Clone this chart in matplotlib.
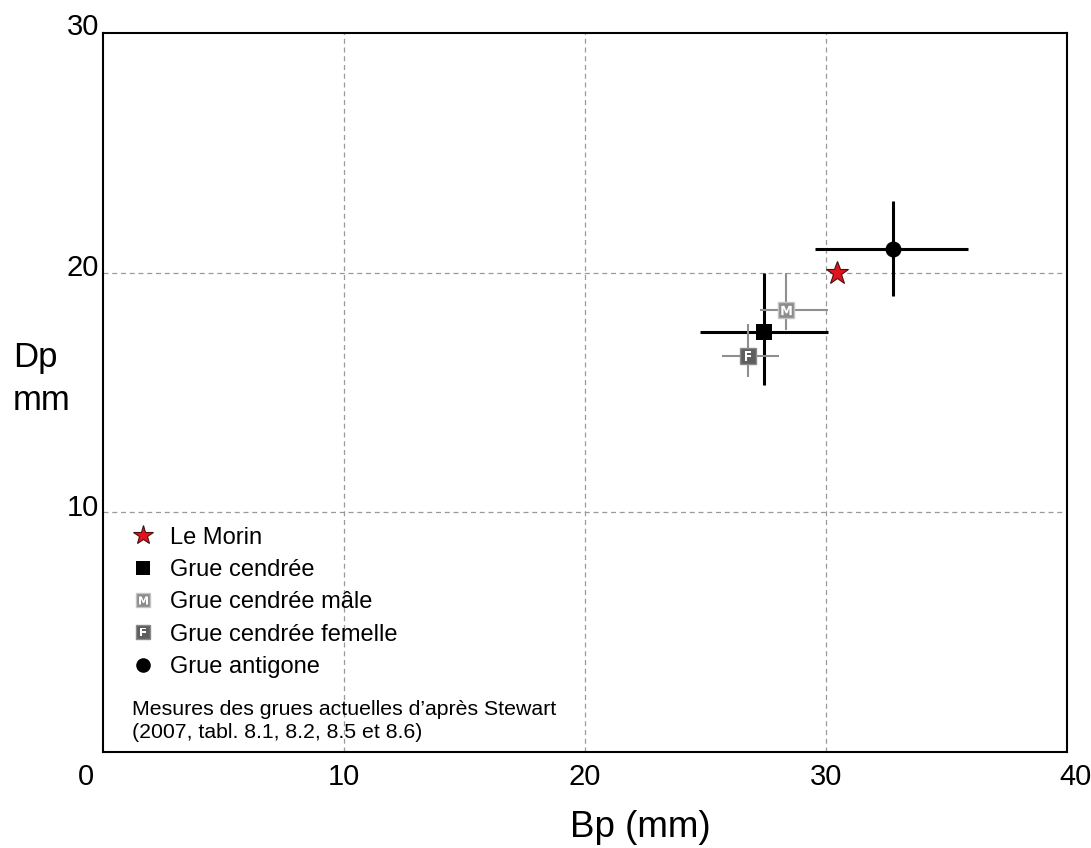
import matplotlib
matplotlib.use("Agg")
import matplotlib.pyplot as plt
from matplotlib.lines import Line2D
from matplotlib.transforms import ScaledTranslation
from matplotlib.legend_handler import HandlerTuple

plt.rcParams['font.family'] = ['Liberation Sans', 'DejaVu Sans']

# Data (Bp, Dp in mm), with ranges
names = ["Le Morin", "Grue cendrée", "Grue cendrée mâle", "Grue cendrée femelle", "Grue antigone"]
bp = [30.45, 27.42, 28.34, 26.77, 32.80]
dp = [20.0, 17.52, 18.46, 16.51, 21.0]
bp_lo = [None, 24.76, 27.28, 25.69, 29.56]
bp_hi = [None, 30.08, 30.08, 28.04, 35.88]
dp_lo = [None, 15.31, 17.62, 15.64, 19.02]
dp_hi = [None, 20.0, 20.0, 17.87, 22.98]

xticks = [0, 10, 20, 30, 40]
yticks = [10, 20, 30]
note = "Mesures des grues actuelles d\u2019après Stewart\n(2007, tabl. 8.1, 8.2, 8.5 et 8.6)"

fig = plt.figure(figsize=(10.91, 8.48), dpi=100)
ax = fig.add_axes([103/1091, 96/848, 964/1091, 719/848])
ax.set_xlim(0, 40)
ax.set_ylim(0, 30)

for s in ax.spines.values():
    s.set_linewidth(1.5)
    s.set_color('black')

# grid
for v in [10, 20, 30]:
    ax.axvline(v, color='#9a9a9a', lw=0.9, ls=(0, (4, 3)), zorder=0)
for v in [10, 20]:
    ax.axhline(v, color='#9a9a9a', lw=0.9, ls=(0, (4, 3)), zorder=0)

bar_colors = [None, 'black', '#8f8f8f', '#8f8f8f', 'black']
bar_lw = [None, 2.2, 1.5, 1.5, 2.2]
for i in range(1, 5):
    ax.errorbar([bp[i]], [dp[i]],
                xerr=[[bp[i] - bp_lo[i]], [bp_hi[i] - bp[i]]],
                yerr=[[dp[i] - dp_lo[i]], [dp_hi[i] - dp[i]]],
                fmt='none', ecolor=bar_colors[i], elinewidth=bar_lw[i], capsize=0, zorder=2)

# markers
star_kw = dict(marker='*', markerfacecolor='#e0141e', markeredgecolor='#4a1010', markeredgewidth=0.8, ls='none')
sq_kw = dict(marker='s', markerfacecolor='black', markeredgecolor='black', markeredgewidth=0, ls='none')
m_kw = dict(marker='s', markerfacecolor='#8c8c8c', markeredgecolor='#c4c4c4', markeredgewidth=1.0, ls='none')
mL_kw = dict(marker=r'$\mathbf{M}$', markerfacecolor='white', markeredgecolor='white', markeredgewidth=0, ls='none')
f_kw = dict(marker='s', markerfacecolor='#5e5e5e', markeredgecolor='#8a8a8a', markeredgewidth=1.0, ls='none')
fL_kw = dict(marker=r'$\mathbf{F}$', markerfacecolor='white', markeredgecolor='white', markeredgewidth=0, ls='none')
c_kw = dict(marker='o', markerfacecolor='black', markeredgecolor='black', markeredgewidth=0, ls='none')

ax.plot([bp[0]], [dp[0]], zorder=4, markersize=17, **star_kw)
ax.plot([bp[1]], [dp[1]], zorder=4, markersize=11.5, **sq_kw)
ax.plot([bp[2]], [dp[2]], zorder=4, markersize=11.5, **m_kw)
ax.plot([bp[2]], [dp[2]], zorder=5, markersize=7.5, **mL_kw)
ax.plot([bp[3]], [dp[3]], zorder=4, markersize=11.5, **f_kw)
ax.plot([bp[3]], [dp[3]], zorder=5, markersize=7, **fL_kw)
ax.plot([bp[4]], [dp[4]], zorder=4, markersize=11.5, **c_kw)

# legend
h_star = Line2D([], [], markersize=15, **star_kw)
h_sq = Line2D([], [], markersize=10.5, **sq_kw)
h_m = (Line2D([], [], markersize=9.5, **m_kw), Line2D([], [], markersize=6.5, **mL_kw))
h_f = (Line2D([], [], markersize=9.5, **f_kw), Line2D([], [], markersize=6, **fL_kw))
h_c = Line2D([], [], markersize=10.5, **c_kw)
leg = ax.legend([h_star, h_sq, h_m, h_f, h_c], names,
                handler_map={tuple: HandlerTuple(ndivide=1)},
                loc='upper left', bbox_to_anchor=(28/964, (752-526.5)/719), frameon=False,
                fontsize=17, handlelength=1.0, handletextpad=0.64,
                labelspacing=0.44, borderaxespad=0.0, borderpad=0.0)

ax.text(29/964, (752-721)/719, note, transform=ax.transAxes, fontsize=15.3,
        va='center', ha='left', linespacing=1.31)

# ticks
ax.set_xticks(xticks)
ax.set_yticks(yticks)
ax.tick_params(length=0, labelsize=21, pad=8)
ax.tick_params(axis='y', pad=3)
xoff = {0: -17, 40: 9}
for lab, v in zip(ax.get_xticklabels(), xticks):
    dx = xoff.get(v, 0)
    lab.set_transform(lab.get_transform() + ScaledTranslation(dx/100, 0, fig.dpi_scale_trans))
yoff = {30: 9, 20: 8, 10: 7}
for lab, v in zip(ax.get_yticklabels(), yticks):
    dy = yoff.get(v, 0)
    lab.set_transform(lab.get_transform() + ScaledTranslation(0, dy/100, fig.dpi_scale_trans))

ax.set_xlabel("Bp (mm)", fontsize=26.5)
ax.xaxis.set_label_coords(0.557, (752-837)/719)
ax.xaxis.label.set_va('baseline')
ax.set_ylabel("Dp\nmm", fontsize=25, rotation=0, ha='left', va='center', multialignment='left',
              linespacing=1.41)
ax.yaxis.set_label_coords((13-103)/964, (752-379)/719)

fig.savefig("out.png", dpi=100)
